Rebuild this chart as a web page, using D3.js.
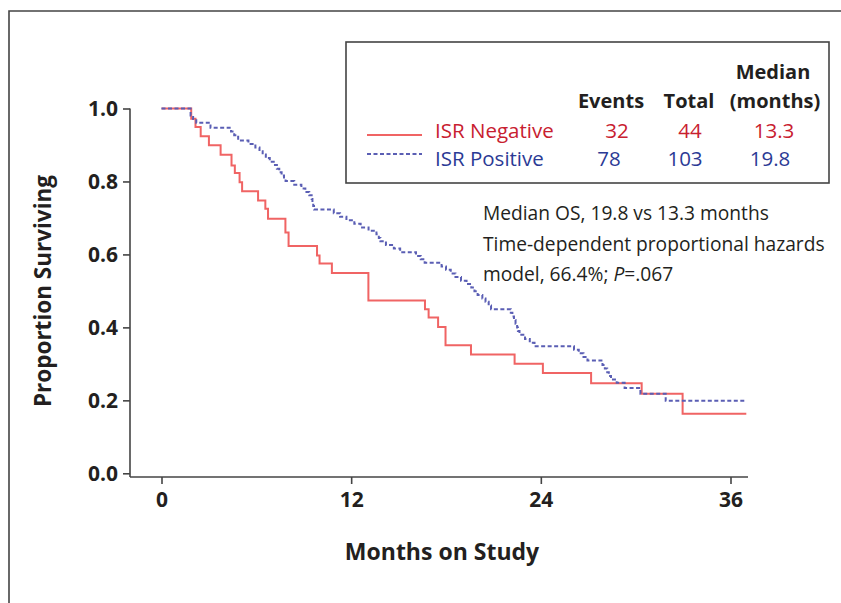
<!DOCTYPE html>
<html><head><meta charset="utf-8">
<script src="https://cdn.jsdelivr.net/npm/d3@7"></script>
<style>
body{margin:0;background:#fff;}
svg{display:block;font-family:"Open Sans","Noto Sans",sans-serif;}
</style></head>
<body><svg id="c" width="841" height="603"></svg>
<script>
// ---- data ----
const xTicks = [0, 12, 24, 36];
const yTicks = [0, 0.2, 0.4, 0.6, 0.8, 1.0];
const seriesNames = ["ISR Negative", "ISR Positive"];
const events = [32, 78];
const totals = [44, 103];
const medians = ["13.3", "19.8"];
// step drop times (months) and survival after each drop
const negTimes = [0, 1.88, 2.15, 2.48, 3.0, 3.74, 4.43, 4.64, 4.94, 5.1, 6.11, 6.57, 6.74, 7.84, 8.04, 9.84, 10.0, 10.78, 13.09, 16.67, 16.9, 17.5, 17.97, 19.58, 22.34, 24.13, 27.18, 30.38, 32.97, 37.0];
const negSurv  = [1.0, 0.972, 0.949, 0.924, 0.899, 0.873, 0.844, 0.823, 0.798, 0.773, 0.748, 0.725, 0.698, 0.66, 0.623, 0.597, 0.575, 0.549, 0.474, 0.45, 0.427, 0.401, 0.351, 0.326, 0.300, 0.275, 0.247, 0.218, 0.163, 0.163];
const posTimes = [0, 1.84, 2.0, 2.2, 3.1, 4.4, 4.6, 4.85, 5.5, 5.94, 6.2, 6.4, 6.6, 6.85, 7.1, 7.3, 7.45, 7.6, 7.75, 7.85, 8.4, 8.85, 9.1, 9.35, 9.5, 9.55, 9.6, 9.65, 10.9, 11.3, 11.7, 12.2, 12.6, 13.1, 13.6, 13.75, 13.85, 14.2, 14.7, 15.1, 16.1, 16.4, 16.65, 17.72, 18.0, 18.3, 18.6, 18.95, 19.3, 19.6, 19.8, 20.0, 20.3, 20.5, 20.7, 20.85, 22.1, 22.2, 22.3, 22.4, 22.5, 22.55, 22.65, 23.0, 23.3, 23.6, 26.1, 26.4, 26.7, 26.95, 27.9, 28.05, 28.2, 28.3, 28.44, 28.8, 29.3, 30.3, 31.9, 37.0];
const posSurv  = [1.0, 0.981, 0.971, 0.961, 0.947, 0.937, 0.927, 0.912, 0.903, 0.893, 0.883, 0.874, 0.864, 0.854, 0.845, 0.835, 0.825, 0.816, 0.806, 0.801, 0.791, 0.781, 0.771, 0.762, 0.752, 0.742, 0.733, 0.723, 0.713, 0.703, 0.694, 0.684, 0.674, 0.665, 0.655, 0.645, 0.636, 0.626, 0.616, 0.606, 0.596, 0.587, 0.577, 0.567, 0.558, 0.548, 0.538, 0.528, 0.519, 0.509, 0.499, 0.489, 0.479, 0.470, 0.460, 0.450, 0.440, 0.430, 0.420, 0.410, 0.400, 0.390, 0.380, 0.368, 0.358, 0.348, 0.339, 0.329, 0.319, 0.309, 0.297, 0.287, 0.277, 0.267, 0.257, 0.248, 0.234, 0.218, 0.199, 0.199];
const annotation = ["Median OS, 19.8 vs 13.3 months", "Time-dependent proportional hazards"];
const lineColors = ["#f06464", "#5a5eb4"];
const textColors = ["#c8202f", "#2b3a95"];

// ---- drawing ----
const svg = d3.select("#c");
const x = d3.scaleLinear().domain([0, 36]).range([161.5, 730.5]);
const y = d3.scaleLinear().domain([0, 1]).range([473.3, 108.5]);

// outer frame (top and left)
svg.append("path").attr("d", "M9,603 V11 H841").attr("fill", "none")
  .attr("stroke", "#444").attr("stroke-width", 1.6);

// axes
const xAxisY = 477;
const xAx = svg.append("g").attr("transform", `translate(0,${xAxisY})`)
  .call(d3.axisBottom(x).tickValues(xTicks).tickSize(7).tickPadding(8).tickSizeOuter(0));
xAx.select(".domain").attr("d", `M130,0H748`);
const yAx = svg.append("g").attr("transform", "translate(130,0)")
  .call(d3.axisLeft(y).tickValues(yTicks).tickSize(7).tickPadding(5).tickFormat(d3.format(".1f")).tickSizeOuter(0));
yAx.select(".domain").attr("d", `M0,108.5V${xAxisY}`);
svg.selectAll(".domain,.tick line").attr("stroke", "#444").attr("stroke-width", 1.6);
svg.selectAll(".tick text").attr("font-size", 21).attr("font-weight", 700).attr("fill", "#231f20")
  .attr("font-family", "'Open Sans',sans-serif");
yAx.selectAll(".tick text").attr("dy", "0.34em");
xAx.selectAll(".tick text").attr("dy", "0.72em");

// axis titles
svg.append("text").attr("transform", "translate(51,291) rotate(-90)").attr("text-anchor", "middle")
  .attr("font-size", 22.5).attr("font-weight", 700).attr("fill", "#231f20").text("Proportion Surviving");
svg.append("text").attr("x", 442).attr("y", 560).attr("text-anchor", "middle")
  .attr("font-size", 23).attr("font-weight", 700).attr("fill", "#231f20").text("Months on Study");

// curves
const line = d3.line().x(d => x(d[0])).y(d => y(d[1])).curve(d3.curveStepAfter);
const negData = negTimes.map((t, i) => [t, negSurv[i]]);
const posData = posTimes.map((t, i) => [t, posSurv[i]]);
svg.append("path").datum(negData).attr("d", line).attr("fill", "none")
  .attr("stroke", lineColors[0]).attr("stroke-width", 2);
svg.append("path").datum(posData).attr("d", line).attr("fill", "none")
  .attr("stroke", lineColors[1]).attr("stroke-width", 2).attr("stroke-dasharray", "4,2.5");

// legend box
svg.append("rect").attr("x", 346).attr("y", 42).attr("width", 483).attr("height", 141)
  .attr("fill", "#fff").attr("stroke", "#444").attr("stroke-width", 1.6);
const hdr = svg.append("g").attr("font-size", 20).attr("font-weight", 700).attr("fill", "#231f20").attr("text-anchor", "middle");
hdr.append("text").attr("x", 773).attr("y", 79).text("Median");
hdr.append("text").attr("x", 611).attr("y", 108).text("Events");
hdr.append("text").attr("x", 689).attr("y", 108).text("Total");
hdr.append("text").attr("x", 775).attr("y", 108).text("(months)");
const rowsY = [138, 166];
const lineY = [135, 154];
const evX = [617, 609], totX = [690, 685], medX = [774, 770];
seriesNames.forEach((n, i) => {
  const g = svg.append("g").attr("font-size", 20.5).attr("fill", textColors[i]);
  svg.append("line").attr("x1", 367).attr("x2", 422).attr("y1", lineY[i]).attr("y2", lineY[i])
    .attr("stroke", lineColors[i]).attr("stroke-width", 2)
    .attr("stroke-dasharray", i === 1 ? "4,2.5" : null);
  g.append("text").attr("x", 435).attr("y", rowsY[i]).text(n);
  g.append("text").attr("x", evX[i]).attr("y", rowsY[i]).attr("text-anchor", "middle").text(events[i]);
  g.append("text").attr("x", totX[i]).attr("y", rowsY[i]).attr("text-anchor", "middle").text(totals[i]);
  g.append("text").attr("x", medX[i]).attr("y", rowsY[i]).attr("text-anchor", "middle").text(medians[i]);
});

// annotation
const ann = svg.append("g").attr("font-size", 19.2).attr("fill", "#231f20");
ann.append("text").attr("x", 483).attr("y", 220).text(annotation[0]);
ann.append("text").attr("x", 483).attr("y", 251).text(annotation[1]);
const t3 = ann.append("text").attr("x", 483).attr("y", 281);
t3.append("tspan").text("model, 66.4%; ");
t3.append("tspan").attr("font-style", "italic").text("P");
t3.append("tspan").text("=.067");
</script></body></html>
